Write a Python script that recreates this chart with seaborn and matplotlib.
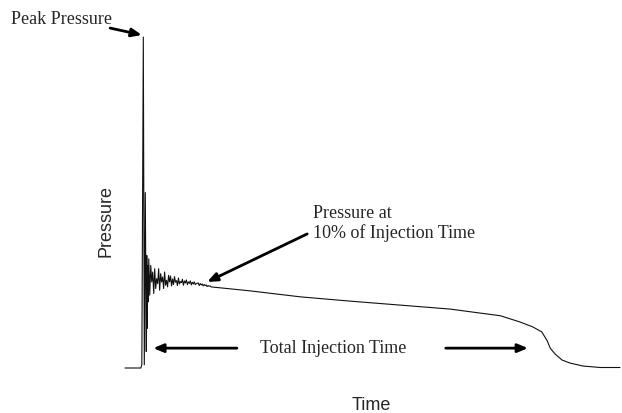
import numpy as np
import pandas as pd
import matplotlib
matplotlib.use("Agg")
import matplotlib.pyplot as plt
import seaborn as sns

# ---- data (time in arbitrary units, pressure in % of peak) ----
rise_time = [0.00, 0.32, 0.34, 0.37, 0.39, 0.41, 0.43, 0.44, 0.45, 0.46, 0.47]
rise_pressure = [0.0, 0.0, 1.0, 100.0, 1.0, 53.0, 5.0, 34.0, 12.0, 31.0, 20.0]

noise_time = [0.48, 0.50, 0.52, 0.54, 0.56, 0.58, 0.60, 0.62, 0.64, 0.66,
              0.68, 0.70, 0.72, 0.74, 0.76, 0.78, 0.80, 0.82, 0.84, 0.86,
              0.88, 0.90, 0.92, 0.94, 0.96, 0.98, 1.00, 1.02, 1.04, 1.06,
              1.08, 1.10, 1.12, 1.14, 1.16, 1.18, 1.20, 1.22, 1.24, 1.26,
              1.28, 1.30, 1.32, 1.34, 1.36, 1.38, 1.40, 1.42, 1.44, 1.46,
              1.48, 1.50, 1.52, 1.54, 1.56, 1.58, 1.60, 1.62, 1.64, 1.66,
              1.68, 1.70, 1.72, 1.74]
noise_pressure = [33.0, 22.0, 31.0, 26.0, 29.0, 22.5, 30.0, 24.0, 27.0, 25.5,
                  30.0, 23.5, 28.5, 26.0, 27.5, 24.0, 29.0, 25.0, 26.5, 24.5,
                  28.0, 26.0, 27.8, 24.8, 26.9, 25.2, 27.6, 25.9, 26.4, 24.9,
                  27.2, 25.4, 26.1, 25.8, 26.8, 25.0, 26.3, 25.7, 26.6, 25.2,
                  26.0, 25.6, 26.3, 25.1, 25.9, 25.4, 26.0, 25.2, 25.5, 25.6,
                  25.7, 24.9, 25.5, 25.1, 25.4, 24.8, 25.2, 24.9, 25.1, 24.6,
                  24.9, 24.7, 24.8, 24.5]

decay_time = [2.53, 3.54, 4.55, 5.56, 6.57, 7.17, 7.58, 7.98, 8.24, 8.42,
              8.53, 8.59, 8.69, 8.83, 8.99, 9.25, 9.60, 10.0]
decay_pressure = [23.3, 21.5, 20.2, 19.0, 17.8, 16.6, 15.8, 13.9, 12.4, 10.9,
                  8.2, 6.0, 4.2, 2.4, 1.5, 0.6, 0.15, 0.15]

df = pd.DataFrame({
    "Time": rise_time + noise_time + decay_time,
    "Pressure": rise_pressure + noise_pressure + decay_pressure,
})

# ---- styling ----
sns.set_theme(style="white")
plt.rcParams["font.family"] = ["Liberation Serif", "DejaVu Serif"]

fig = plt.figure(figsize=(6.22, 4.14), dpi=100)
ax = fig.add_axes([125 / 622, 45 / 414, 495 / 622, 331 / 414])

sns.lineplot(data=df, x="Time", y="Pressure", sort=False, estimator=None,
             color="#111111", linewidth=0.8, ax=ax)
for ln in ax.lines:
    ln.set_clip_on(False)

ax.set_xlim(0, 10)
ax.set_ylim(0, 100)
ax.set_xticks([])
ax.set_yticks([])
sns.despine(ax=ax, left=True, bottom=True)

sans = ["Liberation Sans", "DejaVu Sans"]
ax.set_xlabel("Time", fontsize=13, family=sans)
ax.set_ylabel("Pressure", fontsize=13, family=sans)
ax.xaxis.label.set_va("center")
ax.yaxis.label.set_va("center")
ax.xaxis.set_label_coords(0.497, -0.109)
ax.yaxis.set_label_coords(-0.038, 0.447)

arrow_kw = dict(arrowstyle="-|>,head_length=0.6,head_width=0.25",
                color="black", lw=2.0, mutation_scale=10,
                shrinkA=0, shrinkB=0)

# Peak Pressure
ax.text(-2.30, 105.7, "Peak Pressure", fontsize=13, ha="left", va="center",
        clip_on=False)
ax.annotate("", xy=(0.34, 100.6), xytext=(-0.30, 102.7),
            arrowprops=arrow_kw, annotation_clip=False)

# Pressure at 10% of injection time
ax.text(3.80, 44.0, "Pressure at\n10% of Injection Time", fontsize=13,
        ha="left", va="center", multialignment="left", linespacing=1.15)
ax.annotate("", xy=(1.66, 26.0), xytext=(3.68, 40.5),
            arrowprops=arrow_kw, annotation_clip=False)

# Total injection time
ax.text(4.21, 6.3, "Total Injection Time", fontsize=13, ha="center",
        va="center")
ax.annotate("", xy=(0.57, 6.0), xytext=(2.26, 6.0),
            arrowprops=arrow_kw, annotation_clip=False)
ax.annotate("", xy=(8.14, 6.0), xytext=(6.48, 6.0),
            arrowprops=arrow_kw, annotation_clip=False)

fig.savefig("out.png", dpi=100)
